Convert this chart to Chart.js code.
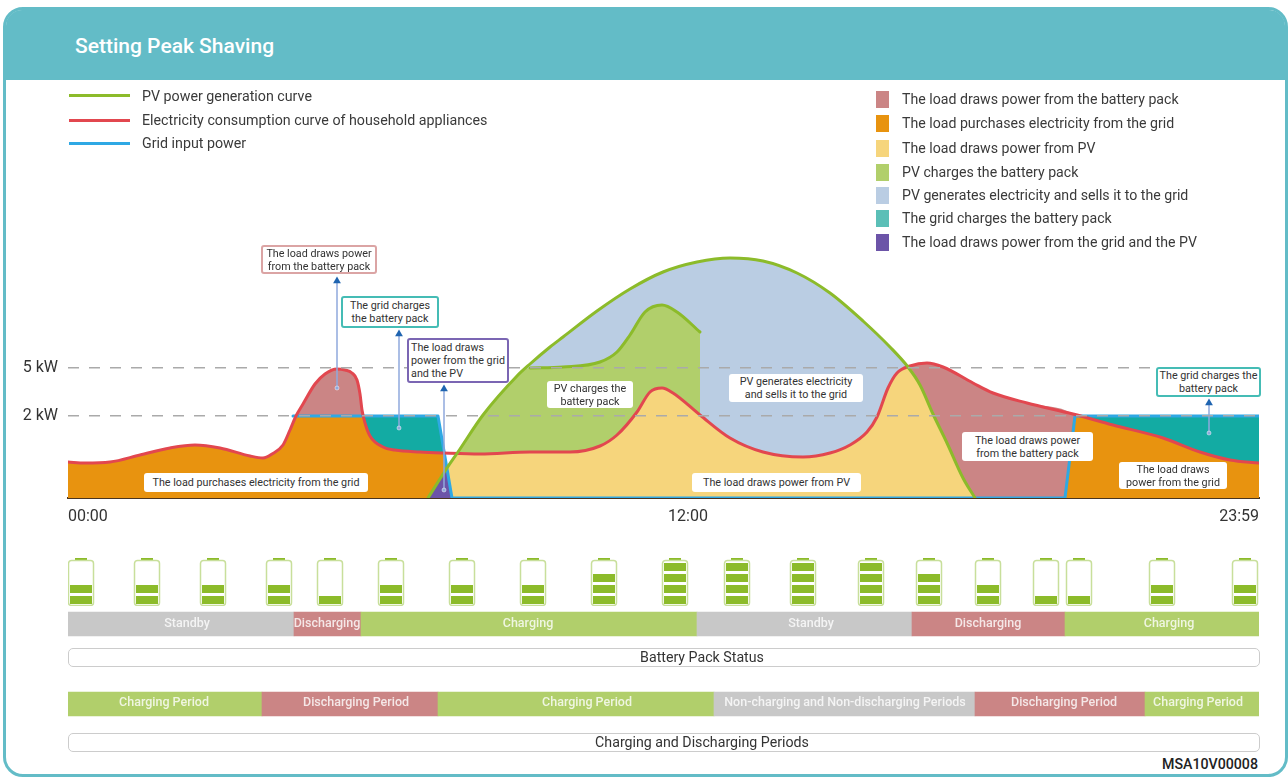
<!DOCTYPE html>
<html>
<head>
<meta charset="utf-8">
<title>Setting Peak Shaving</title>
<script src="https://cdn.jsdelivr.net/npm/chart.js@4"></script>
<style>
  html, body { margin: 0; background: #fff; }
  body { width: 1288px; height: 778px; position: relative; overflow: hidden; font-family: Roboto, sans-serif; color: #333; }
  #frame { position: absolute; left: 3px; top: 7px; width: 1279px; height: 764px; border: 3px solid #63bcc7; border-radius: 20px; }
  #header { position: absolute; left: 0; top: 0; right: 0; height: 70px; background: #63bcc7; border-radius: 16px 16px 0 0; }
  #title { position: absolute; left: 75px; top: 33px; font-size: 21px; line-height: 26px; font-weight: 500; color: #fff; }
  canvas { position: absolute; left: 0; }
  .lineKey { position: absolute; left: 69px; width: 61px; height: 3px; }
  .lineText, .areaText { position: absolute; line-height: 18px; white-space: nowrap; color: #3a3a3a; }
  .lineText { left: 142px; font-size: 14.25px; }
  .areaText { left: 902px; font-size: 14.15px; }
  .areaKey { position: absolute; left: 876px; width: 13px; height: 17px; }
  .note { position: absolute; box-sizing: border-box; background: #fff; border-radius: 3px; font-size: 10.75px; line-height: 13px; color: #333; text-align: center; display: flex; align-items: center; justify-content: center; white-space: pre; }
  .pill { position: absolute; left: 68px; width: 1192px; height: 19px; box-sizing: border-box; background: #fff; border: 1.5px solid #ccc; border-radius: 5px; }
  .pillText { position: absolute; left: 502px; width: 400px; text-align: center; font-size: 14.2px; line-height: 19px; color: #333; }
  .stripText { position: absolute; width: 300px; margin-left: -150px; text-align: center; font-size: 12.5px; line-height: 24px; font-weight: 500; color: rgba(255,255,255,.8); }
  #code { position: absolute; right: 30px; top: 756px; font-size: 14.2px; line-height: 16px; font-weight: 500; color: #222; }
</style>
</head>
<body>
<div id="frame"><div id="header"></div></div>
<div id="title">Setting Peak Shaving</div>
<canvas id="mainChart" width="1288" height="450" style="top:80px"></canvas>
<canvas id="batteryChart" width="1288" height="60" style="top:552px"></canvas>
<canvas id="stripChart" width="1288" height="160" style="top:584px"></canvas>
<div id="overlay"></div>
<div id="code">MSA10V00008</div>
<script>
// the time axis and the power axis of the drawing are schematic, 00:00-12:00-23:59 and
// 2 kW-5 kW are not evenly spaced, so curves are read in the drawing's own axis units
const xTickValues = [0, 620, 1191];
const xTickLabels = ['00:00', '12:00', '23:59'];
const yTickValues = [82, 130];
const yTickLabels = ['2 kW', '5 kW'];

const loadX = [0, 17, 42, 72, 102, 127, 152, 182, 195, 204, 215, 222, 228, 235, 247, 257, 269, 277, 284, 289, 292, 294, 297, 302, 315, 327, 352, 375, 412, 462, 502, 532, 549, 569, 582, 594, 605, 632, 662, 695, 735, 762, 782, 799, 809, 820, 829, 842, 859, 875, 905, 925, 959, 1005, 1045, 1095, 1132, 1162, 1191];
const loadY = [36, 35, 36, 43, 50, 53, 50, 42, 40, 44, 53, 68, 82, 94, 114, 124, 129, 128, 125, 118, 104, 88, 75, 62, 51, 48, 46, 45, 44, 46, 46, 52, 63, 86, 106, 110, 105, 83, 60, 46, 41, 45, 53, 66, 81, 110, 125, 132, 135, 131, 115, 105, 95, 84, 73, 60, 46, 38, 35];

const pvX = [360, 379, 390, 415, 449, 462, 482, 495, 529, 562, 595, 629, 662, 695, 729, 762, 795, 822, 840, 852, 865, 879, 895, 907];
const pvY = [0, 30, 46, 83, 122, 134, 151, 161, 187, 209, 226, 236, 240, 237, 225, 205, 177, 151, 131, 113, 84, 55, 20, 0];

// top of the "PV charges the battery pack" area
const chargeX = [462, 495, 532, 549, 562, 577, 594, 609, 632];
const chargeY = [130, 131, 136, 146, 163, 186, 193, 186, 166];

const gridX = [225, 370, 384, 997, 1007, 1191];
const gridY = [82, 82, 0, 0, 82, 82];

// foot of each callout arrow and its tip
const arrowX = [269, 331, 376, 1141];
const arrowFoot = [110, 70, 8, 65];
const arrowTip = [217, 164, 109, 95];

const batteryX = [13, 79, 145, 211, 262, 323, 394, 465, 536, 607, 669, 735, 803, 861, 920, 978, 1011, 1094, 1177];
const batteryLevel = [2, 2, 2, 2, 1, 2, 2, 2, 3, 4, 4, 4, 4, 3, 2, 1, 1, 2, 2];

const statusNames = ['Standby', 'Discharging', 'Charging', 'Standby', 'Discharging', 'Charging'];
const statusEdges = [0, 226, 293, 629, 844, 997, 1191];
const statusTextX = [119, 259, 460, 743, 920, 1101];

const periodNames = ['Charging Period', 'Discharging Period', 'Charging Period', 'Non-charging and Non-discharging Periods', 'Discharging Period', 'Charging Period'];
const periodEdges = [0, 194, 370, 646, 907, 1077, 1191];
const periodTextX = [96, 288, 519, 777, 996, 1130];

const lineLegend = ['PV power generation curve', 'Electricity consumption curve of household appliances', 'Grid input power'];
const areaLegend = ['The load draws power from the battery pack', 'The load purchases electricity from the grid', 'The load draws power from PV', 'PV charges the battery pack', 'PV generates electricity and sells it to the grid', 'The grid charges the battery pack', 'The load draws power from the grid and the PV'];

const PV_LINE = '#8cbb2a', LOAD_LINE = '#e2474f', GRID_LINE = '#2fa8e4';
const PINK = '#cb8585', ORANGE = '#e8930f', YELLOW = '#f6d57c', GREEN = '#b1cf6b', BLUE = '#bacde3', TEAL = '#13aba3', PURPLE = '#6c54a8', GRAY = '#c8c8c8';

const pts = (xs, ys) => xs.map((x, i) => ({ x: x, y: ys[i] }));
const load = pts(loadX, loadY);
const pv = pts(pvX, pvY);
const charge = pts(chargeX, chargeY);
const between = (curve, a, b) => curve.filter(p => p.x >= a && p.x <= b);

function area(color, data, straight) {
  return { data: data, backgroundColor: color, fill: 'origin', borderWidth: 0, pointRadius: 0,
    cubicInterpolationMode: straight ? 'default' : 'monotone', tension: 0 };
}
function curve(color, data, straight) {
  return { data: data, borderColor: color, borderWidth: 3, fill: false, pointRadius: 0, borderCapStyle: 'round', borderJoinStyle: 'round',
    cubicInterpolationMode: straight ? 'default' : 'monotone', tension: 0 };
}

// listed from the bottom layer up, each area hides what lies under the next curve
const mainSets = [
  area(BLUE, pv),
  area(GREEN, between(pv, 360, 449).concat(charge)),
  area(PINK, between(load, 228, 302)),
  area(PINK, between(load, 842, 1005).concat([{ x: 1007, y: 82 }])),
  area(TEAL, [{ x: 294, y: 82 }, { x: 370, y: 82 }, { x: 384, y: 0 }], true),
  area(TEAL, [{ x: 1007, y: 82 }, { x: 1191, y: 82 }], true),
  area(ORANGE, between(load, 0, 228).concat([{ x: 295, y: 82 }], between(load, 297, 375), [{ x: 377, y: 40 }, { x: 384, y: 0 }])),
  area(ORANGE, [{ x: 997, y: 0 }, { x: 1007, y: 83 }].concat(between(load, 1045, 1191))),
  area(YELLOW, between(pv, 379, 390).concat(between(load, 412, 829), between(pv, 840, 907))),
  area(PURPLE, [{ x: 360, y: 0 }, { x: 379, y: 30 }, { x: 384, y: 0 }], true),
  curve(GRID_LINE, pts(gridX, gridY), true),
  curve(LOAD_LINE, load),
  curve(PV_LINE, pv),
  curve(PV_LINE, charge)
];
arrowX.forEach((x, i) => {
  mainSets.push({
    data: [{ x: x, y: arrowFoot[i] }, { x: x, y: arrowTip[i] }],
    borderColor: '#8fa9dc', borderWidth: 1.5, fill: false, tension: 0,
    pointStyle: ['circle', 'triangle'], pointRadius: [2, 4.5],
    pointBackgroundColor: ['#8fa9dc', '#1f64b0'], pointBorderColor: ['#fff', '#1f64b0'], pointBorderWidth: [0.5, 0]
  });
});
mainSets.forEach((d, i) => { d.order = mainSets.length - i; });

new Chart(document.getElementById('mainChart'), {
  type: 'line',
  data: { datasets: mainSets },
  options: {
    responsive: false,
    animation: false,
    events: [],
    layout: { autoPadding: false, padding: { left: 0, right: 29, top: 0, bottom: 0 } },
    plugins: { legend: { display: false }, tooltip: { enabled: false } },
    scales: {
      x: {
        type: 'linear', min: 0, max: 1191,
        afterBuildTicks: s => { s.ticks = xTickValues.map(v => ({ value: v })); },
        afterFit: s => { s.height = 32; s.paddingLeft = 0; s.paddingRight = 0; },
        grid: { display: false, drawTicks: false },
        border: { display: true, color: '#4a3520', width: 2 },
        ticks: { align: 'inner', autoSkip: false, maxRotation: 0, padding: 9, color: '#333', font: { family: 'Roboto', size: 16 },
          callback: (v, i) => xTickLabels[i] }
      },
      y: {
        min: 0, max: 418,
        afterBuildTicks: s => { s.ticks = yTickValues.map(v => ({ value: v })); },
        afterFit: s => { s.width = 68; s.paddingTop = 0; s.paddingBottom = 0; },
        border: { display: false, dash: [11, 10] },
        grid: { color: '#aaa', lineWidth: 1.5, drawTicks: false, z: 1 },
        ticks: { padding: 10, autoSkip: false, color: '#333', font: { family: 'Roboto', size: 16 },
          callback: (v, i) => yTickLabels[i] }
      }
    }
  }
});

function batteryIcon(level) {
  const c = document.createElement('canvas');
  c.width = 28; c.height = 50;
  const ctx = c.getContext('2d');
  ctx.fillStyle = PV_LINE;
  ctx.fillRect(8, 1, 12, 3);
  ctx.strokeStyle = '#c8df9b';
  ctx.lineWidth = 1.5;
  ctx.beginPath();
  ctx.roundRect(1.5, 3.5, 25, 45, 3);
  ctx.stroke();
  for (let i = 0; i < level; i++) {
    ctx.fillRect(3, 39 - i * 11, 22, 8);
  }
  return c;
}
const batteryIcons = batteryLevel.map(batteryIcon);

new Chart(document.getElementById('batteryChart'), {
  type: 'scatter',
  data: { datasets: [{ data: batteryX.map(x => ({ x: x, y: 0 })), pointStyle: ctx => batteryIcons[ctx.dataIndex], pointRadius: 5 }] },
  options: {
    responsive: false, animation: false, events: [],
    layout: { padding: { left: 68, right: 29 } },
    plugins: { legend: { display: false }, tooltip: { enabled: false } },
    scales: { x: { display: false, min: 0, max: 1191 }, y: { display: false, min: -1, max: 1 } }
  }
});

const stateColor = { Standby: GRAY, Discharging: PINK, Charging: GREEN };
const rowLabels = ['status', 'period'];
const colorOfPeriod = n => n.startsWith('Non') ? GRAY : n.startsWith('Dis') ? PINK : GREEN;
const stripBars = [], stripColors = [];
statusNames.forEach((n, i) => { stripBars.push({ x: [statusEdges[i], statusEdges[i + 1]], y: 'status' }); stripColors.push(stateColor[n]); });
periodNames.forEach((n, i) => { stripBars.push({ x: [periodEdges[i], periodEdges[i + 1]], y: 'period' }); stripColors.push(colorOfPeriod(n)); });

const stripChart = new Chart(document.getElementById('stripChart'), {
  type: 'bar',
  data: { labels: rowLabels, datasets: [{ data: stripBars, backgroundColor: stripColors, barThickness: 24 }] },
  options: {
    indexAxis: 'y', responsive: false, animation: false, events: [],
    layout: { padding: { left: 68, right: 29 } },
    plugins: { legend: { display: false }, tooltip: { enabled: false } },
    scales: { x: { display: false, min: 0, max: 1191 }, y: { display: false } }
  }
});

// text on top of the canvases
const overlay = document.getElementById('overlay');
function put(cls, text, css) {
  const d = document.createElement('div');
  d.className = cls;
  d.textContent = text;
  d.style.cssText = css;
  overlay.appendChild(d);
}
[PV_LINE, LOAD_LINE, GRID_LINE].forEach((c, i) => {
  const y = [95, 120, 143][i];
  put('lineKey', '', 'top:' + (y - 1) + 'px;background:' + c);
  put('lineText', lineLegend[i], 'top:' + (i === 0 ? y - 8 : y - 9) + 'px');
});
const areaKeyColors = [PINK, ORANGE, YELLOW, GREEN, BLUE, '#5bbfb7', PURPLE];
const areaKeyY = [99, 123, 148, 172, 195, 218, 242];
areaLegend.forEach((t, i) => {
  put('areaKey', '', 'top:' + (areaKeyY[i] - 8) + 'px;background:' + areaKeyColors[i]);
  put('areaText', t, 'top:' + (areaKeyY[i] - 9) + 'px');
});

const noteBoxes = [
  ['The load draws power\nfrom the battery pack', 261, 245, 116, 29, '#dba4a4'],
  ['The grid charges\nthe battery pack', 341, 296, 98, 32, '#45bcb5'],
  ['The load draws\npower from the grid\nand the PV', 407, 338, 102, 45, '#7b66b3', 'left'],
  ['The grid charges the\nbattery pack', 1156, 367, 105, 30, '#45bcb5'],
  ['The load purchases electricity from the grid', 144, 473, 224, 19],
  ['PV charges the\nbattery pack', 547, 381, 86, 27],
  ['PV generates electricity\nand sells it to the grid', 729, 374, 134, 28],
  ['The load draws power from PV', 692, 473, 169, 19],
  ['The load draws power\nfrom the battery pack', 962, 432, 131, 29],
  ['The load draws\npower from the grid', 1119, 462, 108, 27]
];
noteBoxes.forEach(n => {
  let css = 'left:' + n[1] + 'px;top:' + n[2] + 'px;width:' + n[3] + 'px;height:' + n[4] + 'px;';
  if (n[5]) css += 'border:2px solid ' + n[5] + ';';
  if (n[6]) css += 'text-align:left;';
  put('note', n[0], css);
});
[['Battery Pack Status', 648], ['Charging and Discharging Periods', 733]].forEach(p => {
  put('pill', '', 'top:' + p[1] + 'px');
  put('pillText', p[0], 'top:' + p[1] + 'px');
});
const xs = stripChart.scales.x;
statusNames.forEach((n, i) => put('stripText', n, 'left:' + xs.getPixelForValue(statusTextX[i]) + 'px;top:611px'));
periodNames.forEach((n, i) => put('stripText', n, 'left:' + xs.getPixelForValue(periodTextX[i]) + 'px;top:690px'));
</script>
</body>
</html>
